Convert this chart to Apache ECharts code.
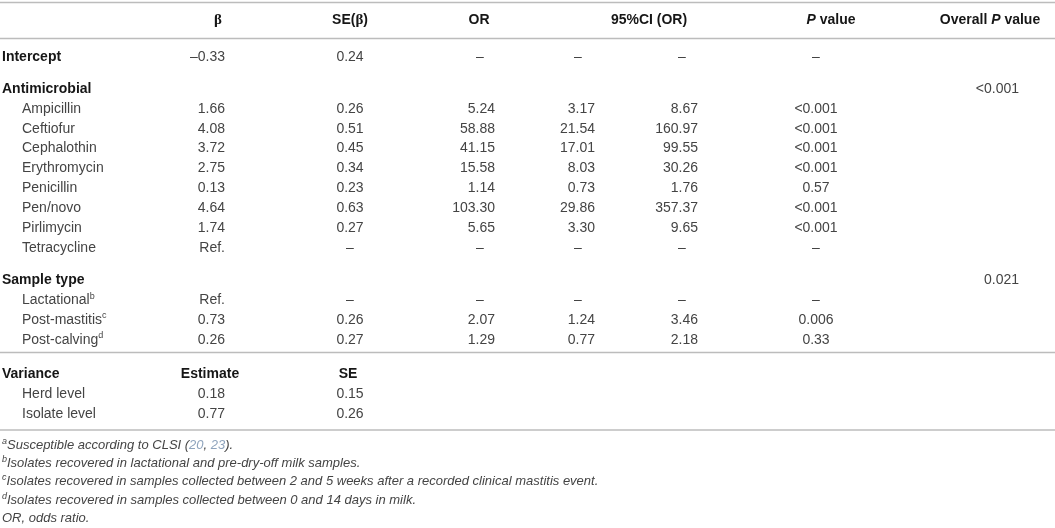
<!DOCTYPE html>
<html>
<head>
<meta charset="utf-8">
<script src="https://cdn.jsdelivr.net/npm/echarts@6/dist/echarts.min.js"></script>
<style>
html, body { margin: 0; padding: 0; background: #fff; }
#table { width: 1055px; height: 528px; }
</style>
</head>
<body>
<div id="table"></div>
<script>
// 表格数据 (rows / columns)
var rowLabels = ['Intercept', 'Antimicrobial', 'Ampicillin', 'Ceftiofur', 'Cephalothin', 'Erythromycin',
    'Penicillin', 'Pen/novo', 'Pirlimycin', 'Tetracycline', 'Sample type', 'Lactational{sup|b}',
    'Post-mastitis{sup|c}', 'Post-calving{sup|d}', 'Variance', 'Herd level', 'Isolate level'];
var sectionRows = [0, 1, 10, 14];
var colBeta = ['–0.33', '', '1.66', '4.08', '3.72', '2.75', '0.13', '4.64', '1.74', 'Ref.', '', 'Ref.', '0.73', '0.26', 'Estimate', '0.18', '0.77'];
var colSE = ['0.24', '', '0.26', '0.51', '0.45', '0.34', '0.23', '0.63', '0.27', '–', '', '–', '0.26', '0.27', 'SE', '0.15', '0.26'];
var colOR = ['–', '', '5.24', '58.88', '41.15', '15.58', '1.14', '103.30', '5.65', '–', '', '–', '2.07', '1.29', '', '', ''];
var colCILow = ['–', '', '3.17', '21.54', '17.01', '8.03', '0.73', '29.86', '3.30', '–', '', '–', '1.24', '0.77', '', '', ''];
var colCIHigh = ['–', '', '8.67', '160.97', '99.55', '30.26', '1.76', '357.37', '9.65', '–', '', '–', '3.46', '2.18', '', '', ''];
var colP = ['–', '', '<0.001', '<0.001', '<0.001', '<0.001', '0.57', '<0.001', '<0.001', '–', '', '–', '0.006', '0.33', '', '', ''];
var colOverall = ['', '<0.001', '', '', '', '', '', '', '', '', '0.021', '', '', '', '', '', ''];
var headerLabels = ['{g|β}', 'SE({g|β})', 'OR', '95%CI (OR)', '{i|P} value', 'Overall {i|P} value'];
var footnotes = [
    '{fsup|a}Susceptible according to CLSI ({ref|20}, {ref|23}).',
    '{fsup|b}Isolates recovered in lactational and pre-dry-off milk samples.',
    '{fsup|c}Isolates recovered in samples collected between 2 and 5 weeks after a recorded clinical mastitis event.',
    '{fsup|d}Isolates recovered in samples collected between 0 and 14 days in milk.',
    'OR, odds ratio.'
];

// 版式 (layout)
var W = 1055, H = 528;
var FONT = 'Liberation Sans, Arial, sans-serif';
var textColor = '#444444';
var boldColor = '#161616';
var bodySize = 14, footSize = 13;
var headerY = 20;
var firstRowY = 57;
var rowPitch = 19.85;
var sectionGap = [0, 32, 32.5, 34.5];
var footY = 445, footPitch = 18.4;
var ruleY = [2.5, 38.5, 352.5, 430];
var columns = [
    { data: colBeta, x: 225, align: 'right', hx: 218 },
    { data: colSE, x: 350, align: 'center', hx: 350 },
    { data: colOR, x: 495, align: 'right', dash: 480, hx: 479 },
    { data: colCILow, x: 595, align: 'right', dash: 578 },
    { data: colCIHigh, x: 698, align: 'right', dash: 682 },
    { data: colP, x: 816, align: 'center', hx: 831 },
    { data: colOverall, x: 1019, align: 'right', hx: 990 }
];
var ciHeaderX = 649;

var rich = {
    sup: { fontSize: 9, fontFamily: FONT, fill: textColor, verticalAlign: 'top', lineHeight: 10 },
    fsup: { fontSize: 9, fontFamily: FONT, fontStyle: 'italic', fill: textColor, verticalAlign: 'top', lineHeight: 10 },
    i: { fontSize: bodySize, fontFamily: FONT, fontWeight: 'bold', fontStyle: 'italic', fill: boldColor, lineHeight: 17 },
    g: { fontSize: 15, fontFamily: 'Liberation Serif, serif', fontWeight: 'bold', fill: boldColor, lineHeight: 17 },
    ref: { fontSize: footSize, fontFamily: FONT, fontStyle: 'italic', fill: '#8fa4bd', lineHeight: 17 }
};

// 行的纵坐标
var rowY = [];
var y = firstRowY, sec = 0;
rowLabels.forEach(function (label, i) {
    if (i > 0) {
        if (sectionRows.indexOf(i) >= 0) {
            sec++;
            y += sectionGap[sec];
        } else {
            y += rowPitch;
        }
    }
    rowY.push(y);
});

// 单元格
var cells = [];
function addCell(x, yy, text, align, bold, size, italic) {
    cells.push({ x: x, y: yy, text: text, align: align, bold: bold, size: size || bodySize, italic: italic });
}

headerLabels.forEach(function (h, k) {
    if (k < 3) addCell(columns[k].hx, headerY, h, 'center', true);
    else if (k === 3) addCell(ciHeaderX, headerY, h, 'center', true);
    else addCell(columns[k + 1].hx, headerY, h, 'center', true);
});

rowLabels.forEach(function (label, i) {
    var isSection = sectionRows.indexOf(i) >= 0;
    addCell(isSection ? 2 : 22, rowY[i], label, 'left', isSection);
    columns.forEach(function (col) {
        var t = col.data[i];
        if (!t) return;
        var sub = (t === 'Estimate' || t === 'SE');
        if (sub) {
            addCell(t === 'Estimate' ? 210 : 348, rowY[i], t, 'center', true);
        } else if (t === '–' && col.dash) {
            addCell(col.dash, rowY[i], t, 'center', false);
        } else {
            addCell(col.x, rowY[i], t, col.align, false);
        }
    });
});

footnotes.forEach(function (f, k) {
    addCell(2, footY + k * footPitch, f, 'left', false, footSize, true);
});

var myChart = echarts.init(document.getElementById('table'));

var option = {
    animation: false,
    grid: { left: 0, right: 0, top: 0, bottom: 0 },
    xAxis: { type: 'value', min: 0, max: W, show: false },
    yAxis: { type: 'value', min: 0, max: H, inverse: true, show: false },
    series: [{
        // 横线
        type: 'custom',
        silent: true,
        data: ruleY.map(function (v) { return [0, v]; }),
        renderItem: function (params, api) {
            var p1 = api.coord([0, api.value(1)]);
            var p2 = api.coord([W, api.value(1)]);
            return {
                type: 'line',
                shape: { x1: p1[0], y1: p1[1], x2: p2[0], y2: p2[1] },
                style: { stroke: '#bcbcbc', lineWidth: 1.5 }
            };
        }
    }, {
        // 文字
        type: 'custom',
        silent: true,
        data: cells.map(function (c) { return [c.x, c.y]; }),
        renderItem: function (params, api) {
            var c = cells[params.dataIndex];
            var p = api.coord([api.value(0), api.value(1)]);
            return {
                type: 'text',
                x: p[0],
                y: p[1],
                style: {
                    text: c.text,
                    fontSize: c.size,
                    fontFamily: FONT,
                    fontWeight: c.bold ? 'bold' : 'normal',
                    fontStyle: c.italic ? 'italic' : 'normal',
                    fill: c.bold ? boldColor : textColor,
                    lineHeight: 17,
                    align: c.align,
                    verticalAlign: 'middle',
                    rich: rich
                }
            };
        }
    }]
};

myChart.setOption(option);
</script>
</body>
</html>
